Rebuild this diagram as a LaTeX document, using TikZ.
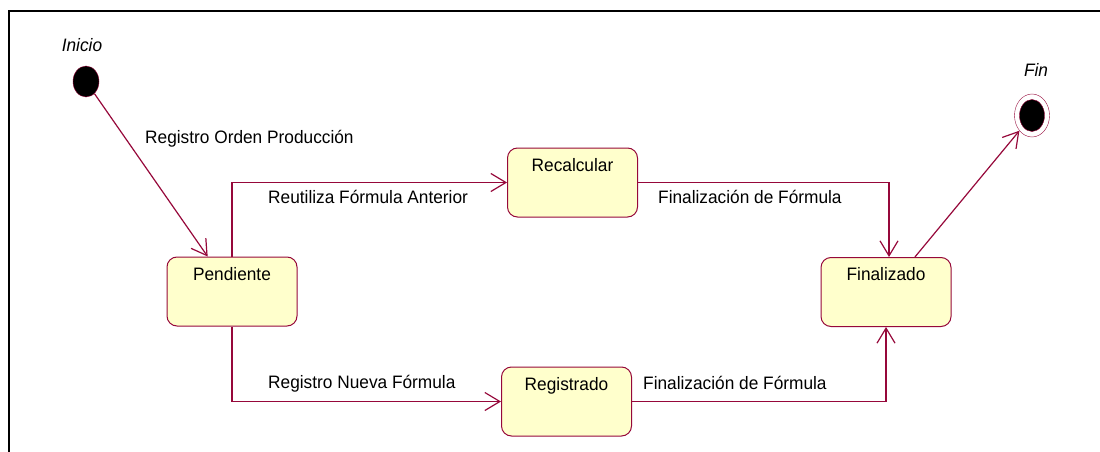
\documentclass[tikz,border=0pt]{standalone}
\usepackage{fontspec}
\setmainfont[FakeStretch=0.96]{Liberation Sans}
\usetikzlibrary{shapes.geometric}
\usetikzlibrary{arrows.meta}
\definecolor{umlline}{RGB}{150,8,58}
\definecolor{umlfill}{RGB}{255,255,204}

\begin{document}
\begin{tikzpicture}[x=1pt,y=-1pt,font=\fontsize{18}{20}\selectfont]
\tikzstyle{state}=[rectangle,draw=umlline,line width=1pt,fill=umlfill,rounded corners=10pt,minimum width=130pt,inner sep=0pt,text height=23pt,text depth=46pt]
\tikzstyle{trans}=[draw=umlline,line width=1.2pt,-{Straight Barb[length=15pt,width=18pt]}]
\tikzstyle{lbl}=[anchor=base west,inner sep=0pt]

\useasboundingbox (0,0) rectangle (1100,452);
\draw[line width=2pt] (8,11) -- (1100,11);
\draw[line width=2pt] (9,11) -- (9,452);

\node[ellipse,draw=umlline,fill=black,minimum width=26pt,minimum height=31pt] (inicio) at (86,81.5) {};
\node[ellipse,draw=umlline,fill=white,minimum width=35pt,minimum height=43pt] (fin) at (1032,115.5) {};
\fill[black,draw=umlline] (fin.center) ellipse [x radius=12.5pt,y radius=16pt];

\node[inner sep=0pt,font=\fontsize{18}{20}\selectfont\itshape] (tinicio) at (82,45) {Inicio};
\node[inner sep=0pt,font=\fontsize{18}{20}\selectfont\itshape] (tfin) at (1036,70) {Fin};

\node[state] (pendiente) at (232,291.5) {Pendiente};
\node[state] (recalcular) at (572.5,182.5) {Recalcular};
\node[state] (registrado) at (566.5,401.5) {Registrado};
\node[state] (finalizado) at (886,292) {Finalizado};

\draw[trans] (inicio) -- (pendiente);
\draw[trans] (pendiente.north) |- (recalcular.west);
\draw[trans] (pendiente.south) |- (registrado.west);
\draw[trans] (recalcular.east) -| ([xshift=3pt]finalizado.north);
\draw[trans] (registrado.east) -| (finalizado.south);
\draw[trans] (finalizado) -- (fin);

\node[lbl] (l1) at (145,143) {Registro Orden Producción};
\node[lbl] (l2) at (268,203) {Reutiliza Fórmula Anterior};
\node[lbl] (l3) at (268,388) {Registro Nueva Fórmula};
\node[lbl] (l4) at (658,203) {Finalización de Fórmula};
\node[lbl] (l5) at (643,389) {Finalización de Fórmula};

\end{tikzpicture}
\end{document}
